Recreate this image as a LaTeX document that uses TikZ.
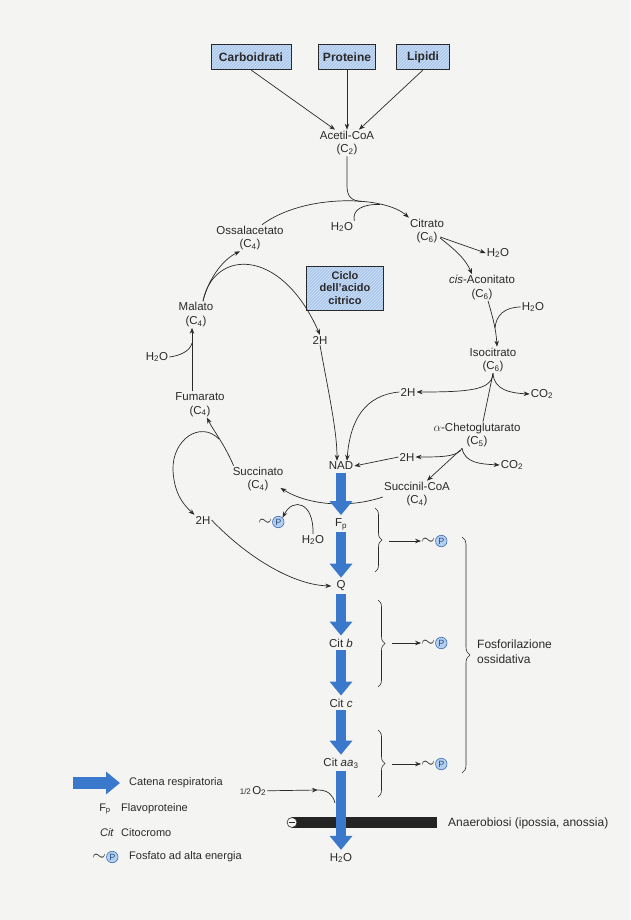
\documentclass[tikz,border=0pt]{standalone}
\usepackage{fontspec}
\setmainfont{Liberation Sans}
\usetikzlibrary{arrows.meta,calc,positioning,decorations.pathreplacing,patterns}
\definecolor{ink}{HTML}{2A2A2A}
\definecolor{chainblue}{HTML}{3A78CC}
\definecolor{boxblue}{HTML}{A9C6EC}
\definecolor{hepfill}{HTML}{B3CFF0}
\definecolor{hepline}{HTML}{3C6DB4}
\definecolor{paper}{HTML}{F4F4F2}
\newcommand\lsub[1]{\textsubscript{#1}}
\newcommand\hepnode[3]{\node[tild] (#1t) at (#2,#3) {$\sim$}; \node[hepc, right=0.3pt of #1t] (#1) {P};}
\begin{document}
\begin{tikzpicture}[x=1pt,y=-1pt,
  lbl/.style={font=\fontsize{11.5}{13.5}\selectfont, text=ink, inner sep=1pt, align=center},
  leg/.style={font=\fontsize{11}{13}\selectfont, text=ink, inner sep=1pt},
  srcbox/.style={draw=ink, line width=0.9pt, preaction={fill=boxblue}, pattern=north east lines, pattern color=white!55!boxblue, font=\bfseries\fontsize{12}{13}\selectfont, text=ink, inner sep=0pt, minimum height=25pt},
  arr/.style={draw=ink, line width=0.7pt, -{Stealth[length=6pt,width=4.5pt]}},
  ln/.style={draw=ink, line width=0.7pt},
  chain/.style={draw=chainblue, line width=10pt, -{Triangle[length=14pt,width=22pt]}, shorten <=1.5pt, shorten >=2pt},
  tild/.style={font=\fontsize{17}{17}\selectfont, inner sep=0pt, text=ink},
  hepc/.style={circle, draw=hepline, fill=hepfill, line width=0.6pt, inner sep=0.5pt, minimum size=11.5pt, font=\fontsize{9}{9}\selectfont, text=hepline!70!black},
  brc/.style={draw=ink, line width=0.6pt, decorate, decoration={brace, amplitude=7pt}},
]
\useasboundingbox (0,0) rectangle (630,920);
\fill[paper] (0,0) rectangle (630,920);

% sources
\node[srcbox, minimum width=80pt] (carb) at (251,57) {Carboidrati};
\node[srcbox, minimum width=57pt] (prot) at (347,57) {Proteine};
\node[srcbox, minimum width=53pt] (lip) at (423,57) {Lipidi};
\node[lbl] (acet) at (347,143) {Acetil-CoA\\(C\lsub{2})};
\draw[arr] (carb.south) -- ($(acet.north)+(-12,0)$);
\draw[arr] (prot) -- (acet);
\draw[arr] (lip.south) -- ($(acet.north)+(12,0)$);

% cycle box
\node[srcbox, font=\bfseries\fontsize{11}{12.5}\selectfont, align=center, minimum width=77pt, minimum height=44pt] (ciclo) at (345,288) {Ciclo\\dell’acido\\citrico};

% top arc
\node[lbl] (oss) at (250,238) {Ossalacetato\\(C\lsub{4})};
\node[lbl] (cit) at (427,231) {Citrato\\(C\lsub{6})};
\draw[arr] ($(oss.north)+(12,0)$) .. controls (305,193) and (385,196) .. (cit.north west);
\coordinate (jn1) at (362,201.5);
\draw[ln] (acet.south) -- (347,186) .. controls (347,197) and (352,201) .. (jn1);
\node[lbl] (w1) at (342,227) {H\lsub{2}O};
\coordinate (jn2) at (380,204.5);
\draw[ln] (w1.north east) .. controls (352,210) and (362,204) .. (jn2);

% right side
\node[lbl] (w2) at (498,253) {H\lsub{2}O};
\node[lbl] (cis) at (482,287.5) {\textit{cis}-Aconitato\\(C\lsub{6})};
\draw[arr] ($(cit.east)+(-5,6)$) -- (w2.west);
\draw[arr] ($(cit.east)+(-5,7)$) .. controls (455,250) and (465,258) .. ($(cis.north)+(-10,0)$);
\node[lbl] (w3) at (533,307) {H\lsub{2}O};
\node[lbl] (iso) at (493,360) {Isocitrato\\(C\lsub{6})};
\draw[arr] ($(cis.south)+(6,0)$) .. controls (492,315) and (496,328) .. ($(iso.north)+(4,0)$);
\coordinate (jn3) at (495,328);
\draw[ln] (w3.west) .. controls (505,307) and (496,315) .. (jn3);

\node[lbl] (nad) at (341,466) {NAD};
\node[lbl] (h2a) at (408,392) {2H};
\node[lbl] (co2a) at (542,394) {CO\lsub{2}};
\draw[arr] (iso.south) .. controls (492,390) and (470,392) .. (h2a.east);
\draw[arr] (iso.south) .. controls (494,390) and (510,393) .. (co2a.west);
\node[lbl] (akg) at (477,435) {$\alpha$-Chetoglutarato\\(C\lsub{5})};
\draw[ln] ($(akg.north)+(6,0)$) -- (iso.south);
\draw[arr] (h2a.west) .. controls (365,395) and (350,420) .. ($(nad.north)+(6,0)$);

\node[lbl] (h2b) at (407,457) {2H};
\node[lbl] (co2b) at (512,465) {CO\lsub{2}};
\draw[arr] ($(akg.south)+(-15,0)$) .. controls (458,457) and (440,457) .. (h2b.east);
\draw[arr] ($(akg.south)+(-15,0)$) .. controls (465,463) and (480,464) .. (co2b.west);
\node[lbl] (scoa) at (417,494) {Succinil-CoA\\(C\lsub{4})};
\draw[arr] ($(akg.south)+(-17,2)$) -- ($(scoa.north)+(10,0)$);
\draw[arr] (h2b.west) -- (nad.east);

% left side
\node[lbl] (succ) at (258,479) {Succinato\\(C\lsub{4})};
\draw[arr] ($(scoa.west)+(0,3)$) .. controls (350,508) and (310,506) .. ($(succ.east)+(-4,9)$);
\node[lbl] (w4) at (313,540) {H\lsub{2}O};
\hepnode{p0}{265}{522}
\draw[arr] (w4.north) .. controls (314,502) and (293,497) .. (p0.north east);

\node[lbl] (fum) at (200,404.5) {Fumarato\\(C\lsub{4})};
\node[lbl] (mal) at (196,314.5) {Malato\\(C\lsub{4})};
\draw[arr] ($(fum.north)+(-8,0)$) -- ($(mal.south)+(-4,0)$);
\node[lbl] (w5) at (157,357) {H\lsub{2}O};
\coordinate (jn5) at (192,343);
\draw[ln] (w5.east) .. controls (178,356) and (190,352) .. (jn5);
\draw[arr] ($(mal.north)+(7,0)$) .. controls (208,280) and (222,260) .. ($(oss.south)+(-10,0)$);
\node[lbl] (h2c) at (320,340) {2H};
\draw[arr] ($(mal.north)+(7,0)$) .. controls (213,250) and (280,245) .. (h2c.north);
\draw[arr] (h2c.south) .. controls (328,390) and (337,430) .. ($(nad.north)+(-4,0)$);

\draw[arr] ($(succ.north west)+(2,0)$) .. controls (225,445) and (213,430) .. ($(fum.south)+(7,0)$);
\node[lbl] (h2d) at (203,520) {2H};
\coordinate (jn6) at (219,439);
\draw[arr] (jn6) .. controls (200,420) and (172,440) .. (173,470) .. controls (174,495) and (185,506) .. (h2d.north west);

% chain
\node[lbl] (fp) at (341,524) {F\lsub{p}};
\node[lbl] (q) at (341,586) {Q};
\node[lbl] (citb) at (341,643) {Cit \textit{b}};
\node[lbl] (citc) at (341,703) {Cit \textit{c}};
\node[lbl] (citaa) at (341,763) {Cit \textit{aa}\lsub{3}};
\node[lbl] (wend) at (341,858) {H\lsub{2}O};
\draw[arr] (h2d.east) .. controls (250,560) and (295,585) .. ($(q.west)+(-4,0)$);

% anaerobiosis bar
\fill[ink!85!black] (292,817) rectangle (437,828);
\node[circle, draw=ink, fill=paper, line width=0.6pt, inner sep=0pt, minimum size=10pt] (minus) at (292,822.5) {};
\draw[ink, line width=0.8pt] ($(minus.west)+(2,0)$) -- ($(minus.east)+(-2,0)$);
\node[lbl, font=\fontsize{12}{14}\selectfont, anchor=west] (anaer) at (447,823) {Anaerobiosi (ipossia, anossia)};

\node[lbl] (o2) at (253,791) {\fontsize{8}{9}\selectfont 1/2\,\fontsize{11.5}{13}\selectfont O\lsub{2}};
\coordinate (o2j) at (318,790);
\draw[arr] (o2) -- (o2j);
\coordinate (o2k) at (335,803);
\draw[ln] (o2j) .. controls (328,790) and (333,795) .. (o2k);

\draw[chain] (nad) -- (fp);
\draw[chain] (fp) -- (q);
\draw[chain] (q) -- (citb);
\draw[chain] (citb) -- (citc);
\draw[chain] (citc) -- (citaa);
\draw[chain] (citaa) -- (wend);

% braces
\draw[brc] (375,508) -- (375,572);
\coordinate (b1) at (389,541);
\hepnode{p1}{428}{541}
\draw[arr] (b1) -- (p1t);
\draw[brc] (378,600) -- (378,687);
\coordinate (b2) at (392,643);
\hepnode{p2}{428}{643}
\draw[arr] (b2) -- (p2t);
\draw[brc] (378,730) -- (378,797);
\coordinate (b3) at (392,764);
\hepnode{p3}{428}{764}
\draw[arr] (b3) -- (p3t);
\draw[brc, decoration={brace, amplitude=8pt}] (462,537) -- (462,773);
\node[lbl, font=\fontsize{12}{15}\selectfont, anchor=west, align=left] (fos) at (476,652) {Fosforilazione\\ossidativa};

% legend
\coordinate (la) at (73,783);
\node[leg, anchor=west] (lcat) at (128,783) {Catena respiratoria};
\draw[chain, line width=12pt, shorten <=0pt] (la) -- ($(lcat.west)+(-6,0)$);
\node[leg] (lfp) at (105,809) {F\lsub{p}};
\node[leg, anchor=west] (lflav) at (120,809) {Flavoproteine};
\node[leg] (lcit) at (107,833) {\textit{Cit}};
\node[leg, anchor=west] (lcito) at (120,833) {Citocromo};
\hepnode{lp}{99}{857}
\node[leg, anchor=west] (lfos) at (128,857) {Fosfato ad alta energia};
\end{tikzpicture}
\end{document}
